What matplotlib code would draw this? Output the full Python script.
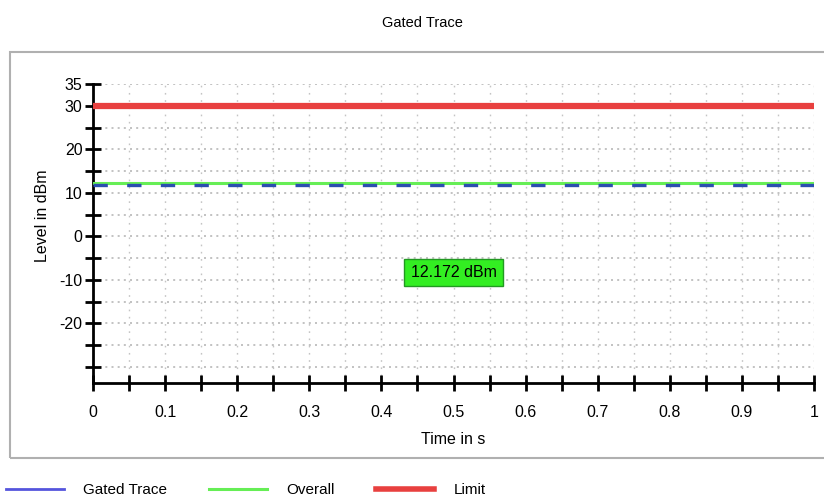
import matplotlib.pyplot as plt
from matplotlib.lines import Line2D
from matplotlib.patches import Rectangle
from matplotlib.ticker import FixedLocator, FixedFormatter

plt.rcParams['font.family'] = ['Liberation Sans Narrow', 'Liberation Sans', 'DejaVu Sans']

# data
time_s = [0.0, 1.0]
gated_trace = [11.75, 11.75]
overall = [12.172, 12.172]
limit = [30.0, 30.0]
overall_label = "12.172 dBm"

x_ticks = [i * 0.05 for i in range(21)]
x_labels = ["0", "", "0.1", "", "0.2", "", "0.3", "", "0.4", "", "0.5", "",
            "0.6", "", "0.7", "", "0.8", "", "0.9", "", "1"]
y_ticks = [-30, -25, -20, -15, -10, -5, 0, 5, 10, 15, 20, 25, 30, 35]
y_labels = ["", "", "-20", "", "-10", "", "0", "", "10", "", "20", "", "30", "35"]


def main():
    fig = plt.figure(figsize=(8.24, 5.0), dpi=100)
    ax = fig.add_axes([93 / 824, 1 - 383 / 500, 721 / 824, 299 / 500])

    # outer gray frame around the chart area
    fig.patches.append(Rectangle((10 / 824, 1 - 458 / 500), 1.0, 406 / 500,
                                 transform=fig.transFigure, fill=False,
                                 edgecolor="#b0b0b0", linewidth=1.5))

    ax.plot(time_s, limit, color="#e8403f", linewidth=4.5, solid_capstyle="butt", zorder=3)
    ax.plot(time_s, overall, color="#66ee55", linewidth=2.2, zorder=3)
    ax.plot(time_s, gated_trace, color="#2b4fb0", linewidth=2.4,
            dashes=(4.3, 5.8), dash_capstyle="butt", zorder=4)

    ax.set_xlim(0, 1)
    ax.set_ylim(-33.7, 35)

    ax.xaxis.set_major_locator(FixedLocator(x_ticks))
    ax.xaxis.set_major_formatter(FixedFormatter(x_labels))
    ax.yaxis.set_major_locator(FixedLocator(y_ticks))
    ax.yaxis.set_major_formatter(FixedFormatter(y_labels))
    ax.tick_params(axis="both", direction="inout", length=11, width=2,
                   labelsize=11.5, colors="black")
    ax.tick_params(axis="x", pad=10)
    ax.tick_params(axis="y", pad=2)

    ax.grid(True, axis="y", color="#b8b8b8", linestyle=(0, (1.2, 2.5)), linewidth=1.2)
    ax.grid(True, axis="x", color="#c4c4c4", linestyle=(0, (1.2, 4)), linewidth=1.0)
    ax.set_axisbelow(True)

    for side in ["top", "right"]:
        ax.spines[side].set_visible(False)
    for side in ["left", "bottom"]:
        ax.spines[side].set_linewidth(2)

    ax.set_xlabel("Time in s", fontsize=11.5)
    ax.set_ylabel("Level in dBm", fontsize=11.5)
    ax.xaxis.set_label_coords(0.5, -0.165)
    ax.yaxis.set_label_coords(-(93 - 50) / 721, 0.56)

    fig.text(422 / 824, 1 - 23 / 500, "Gated Trace", ha="center", va="center", fontsize=10.5)

    ax.text(0.5, -8.3, overall_label, ha="center", va="center", fontsize=11.5, zorder=5,
            bbox=dict(boxstyle="square,pad=0.4", facecolor="#33ee22",
                      edgecolor="#229922", linewidth=1))

    handles = [Line2D([], [], color="#5555dd", linewidth=2),
               Line2D([], [], color="#66ee55", linewidth=2.2),
               Line2D([], [], color="#e8403f", linewidth=4)]
    fig.legend(handles, ["Gated Trace", "Overall", "Limit"], loc="center left",
               bbox_to_anchor=(-0.01, 1 - 490 / 500), ncol=3, frameon=False,
               fontsize=11, handlelength=3.8, handletextpad=1.3, columnspacing=2.7)

    fig.savefig("out.png", dpi=100)
    plt.close(fig)


if __name__ == "__main__":
    main()
